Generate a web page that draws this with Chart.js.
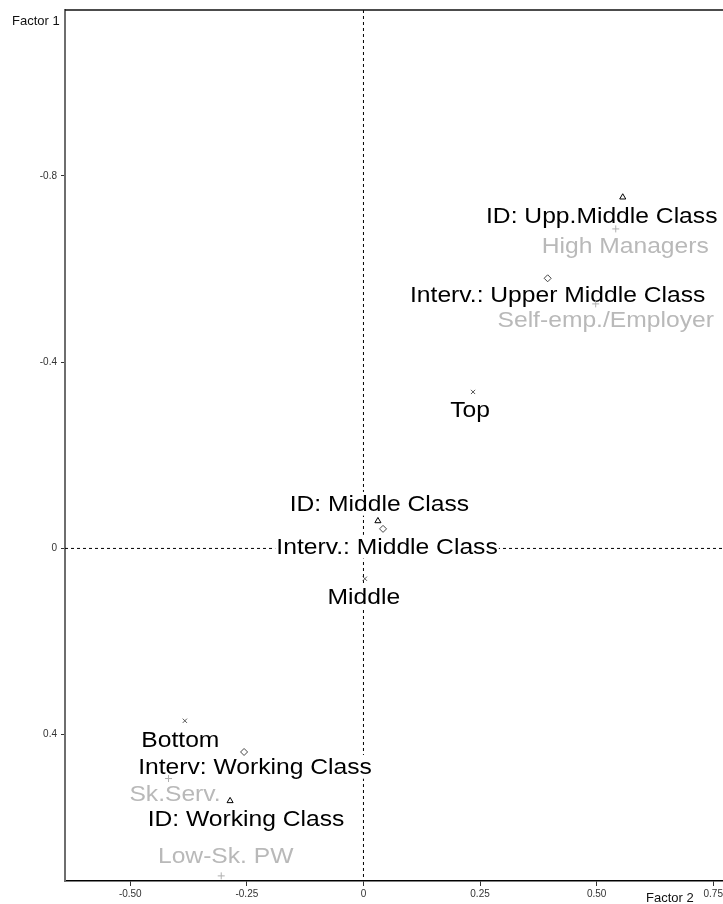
<!DOCTYPE html>
<html>
<head>
<meta charset="utf-8">
<script src="https://cdn.jsdelivr.net/npm/chart.js@4"></script>
<style>
  body { margin: 0; background: #fff; }
  #wrap { width: 723px; height: 904px; position: relative; }
</style>
</head>
<body>
<div id="wrap"><canvas id="mca"></canvas></div>
<script>
// --- data (Factor 2 = x, Factor 1 = y, y reversed) ---
const idLabels = ['ID: Upp.Middle Class', 'ID: Middle Class', 'ID: Working Class'];
const idX = [0.556, 0.031, -0.286];
const idY = [-0.754, -0.059, 0.542];

const intervLabels = ['Interv.: Upper Middle Class', 'Interv.: Middle Class', 'Interv: Working Class'];
const intervX = [0.395, 0.042, -0.256];
const intervY = [-0.580, -0.042, 0.437];

const strataLabels = ['Top', 'Middle', 'Bottom'];
const strataX = [0.235, 0.003, -0.383];
const strataY = [-0.336, 0.065, 0.370];

const occLabels = ['High Managers', 'Self-emp./Employer', 'Sk.Serv.', 'Low-Sk. PW'];
const occX = [0.541, 0.498, -0.418, -0.305];
const occY = [-0.686, -0.525, 0.494, 0.703];

const xTicks = [-0.50, -0.25, 0, 0.25, 0.50, 0.75];
const yTicks = [-0.8, -0.4, 0, 0.4];

// label placement relative to its marker, in px (style, not data)
const idOffsets = [[-21, 18], [1.5, -18], [16, 17]];
const intervOffsets = [[10, 15.5], [4, 17], [11, 14]];
const strataOffsets = [[-3, 17], [-1, 17], [-4.5, 18]];
const occOffsets = [[9.5, 16], [10, 15], [6.5, 15], [4.5, -21]];

function pts(xs, ys) {
  return xs.map((x, i) => ({ x: x, y: ys[i] }));
}

const FONT = '"Liberation Sans", Arial, sans-serif';

const zeroLines = {
  id: 'zeroLines',
  beforeDatasetsDraw(chart) {
    const { ctx, chartArea: a, scales: { x, y } } = chart;
    const px = x.getPixelForValue(0);
    const py = y.getPixelForValue(0);
    ctx.save();
    ctx.strokeStyle = '#000';
    ctx.lineWidth = 1;
    ctx.setLineDash([3, 3]);
    ctx.beginPath();
    ctx.moveTo(px, a.top); ctx.lineTo(px, a.bottom);
    ctx.moveTo(a.left, py); ctx.lineTo(a.right, py);
    ctx.stroke();
    ctx.restore();

    // point labels, with white boxes behind, drawn under the markers
    const size = 22, stretch = 1.12;
    chart.data.datasets.forEach((ds) => {
      ds.data.forEach((p, i) => {
        const cx = x.getPixelForValue(p.x) + ds.labelOffsets[i][0];
        const cy = y.getPixelForValue(p.y) + ds.labelOffsets[i][1];
        ctx.save();
        ctx.translate(cx, cy);
        ctx.scale(stretch, 1);
        ctx.font = size + 'px ' + FONT;
        ctx.textAlign = 'center';
        ctx.textBaseline = 'alphabetic';
        const w = ctx.measureText(ds.labels[i]).width;
        const base = size * 0.358;
        ctx.fillStyle = '#fff';
        ctx.fillRect(-w / 2 - 1, base - size * 0.86, w + 2, size * 1.08);
        ctx.fillStyle = ds.labelColor;
        ctx.fillText(ds.labels[i], 0, base);
        ctx.restore();
      });
    });
  },
  afterDraw(chart) {
    const { ctx, chartArea: a } = chart;
    ctx.save();
    ctx.strokeStyle = '#111';
    ctx.lineWidth = 1.5;
    ctx.beginPath();
    ctx.moveTo(a.left, a.top);
    ctx.lineTo(a.right, a.top);
    ctx.stroke();
    ctx.fillStyle = '#111';
    ctx.font = '13px ' + FONT;
    ctx.textBaseline = 'middle';
    ctx.textAlign = 'left';
    ctx.fillText('Factor 1', 12, 21);
    ctx.fillText('Factor 2', 646, 898);
    ctx.restore();
  }
};

new Chart(document.getElementById('mca'), {
  type: 'scatter',
  data: {
    datasets: [
      {
        label: 'Occupation',
        data: pts(occX, occY),
        labels: occLabels, labelOffsets: occOffsets, labelColor: '#b9b9b9',
        pointStyle: 'cross', radius: 3.5, borderColor: '#b0b0b0', borderWidth: 1,
        backgroundColor: 'transparent'
      },
      {
        label: 'Strata',
        data: pts(strataX, strataY),
        labels: strataLabels, labelOffsets: strataOffsets, labelColor: '#000',
        pointStyle: 'crossRot', radius: 3, borderColor: '#555', borderWidth: 1,
        backgroundColor: 'transparent'
      },
      {
        label: 'Interval',
        data: pts(intervX, intervY),
        labels: intervLabels, labelOffsets: intervOffsets, labelColor: '#000',
        pointStyle: 'rectRot', radius: 3.5, borderColor: '#444', borderWidth: 1,
        backgroundColor: '#fff'
      },
      {
        label: 'Identification',
        data: pts(idX, idY),
        labels: idLabels, labelOffsets: idOffsets, labelColor: '#000',
        pointStyle: 'triangle', radius: 3.5, borderColor: '#000', borderWidth: 1,
        backgroundColor: '#fff'
      }
    ]
  },
  options: {
    responsive: true,
    maintainAspectRatio: false,
    animation: false,
    layout: { autoPadding: false, padding: { top: 10, right: 0, left: 0, bottom: 0 } },
    plugins: { legend: { display: false }, tooltip: { enabled: false } },
    scales: {
      x: {
        type: 'linear',
        min: -0.640, max: 0.771,
        afterBuildTicks: (s) => { s.ticks = xTicks.map(v => ({ value: v })); },
        afterFit: (s) => { s.height = 23; s.paddingLeft = 0; s.paddingRight = 0; },
        border: { display: true, color: '#000', width: 1.5 },
        grid: { drawOnChartArea: false, drawTicks: true, tickLength: 5, color: '#333' },
        ticks: {
          color: '#333', padding: 2, maxRotation: 0, autoSkip: false,
          font: { family: FONT, size: 10 },
          callback: (v) => v === 0 ? '0' : v.toFixed(2)
        }
      },
      y: {
        type: 'linear',
        reverse: true,
        min: -1.156, max: 0.714,
        afterBuildTicks: (s) => { s.ticks = yTicks.map(v => ({ value: v })); },
        afterFit: (s) => { s.width = 65; s.paddingTop = 0; s.paddingBottom = 0; },
        border: { display: true, color: '#6e6e6e', width: 2 },
        grid: { drawOnChartArea: false, drawTicks: true, tickLength: 4, color: '#333' },
        ticks: {
          color: '#333', padding: 4, autoSkip: false,
          font: { family: FONT, size: 10 },
          callback: (v) => v === 0 ? '0' : v.toFixed(1)
        }
      }
    }
  },
  plugins: [zeroLines]
});
</script>
</body>
</html>
